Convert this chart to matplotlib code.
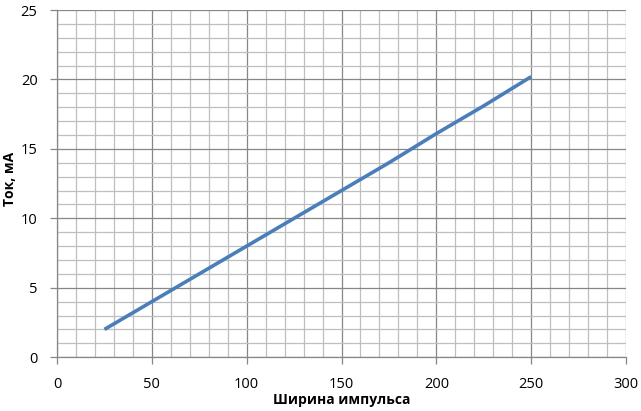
import numpy as np
import matplotlib.pyplot as plt
from matplotlib.ticker import MultipleLocator

# pulse width vs current
width = [25, 50, 75, 100, 125, 150, 175, 200, 225, 250]
current = [2.0, 4.0, 6.0, 8.0, 10.0, 12.0, 14.0, 16.1, 18.1, 20.2]

plt.rcParams['font.family'] = ['Open Sans', 'DejaVu Sans']

fig = plt.figure(figsize=(6.41, 4.11), dpi=100)
ax = fig.add_axes([0.089, 0.131, 0.8876, 0.8446])

ax.plot(width, current, color='#4a7ebb', lw=2.6, solid_capstyle='butt', zorder=3)

ax.set_xlim(0, 300)
ax.set_ylim(0, 25)
ax.xaxis.set_major_locator(MultipleLocator(50))
ax.xaxis.set_minor_locator(MultipleLocator(10))
ax.yaxis.set_major_locator(MultipleLocator(5))
ax.yaxis.set_minor_locator(MultipleLocator(1))

ax.grid(which='major', color='#878787', lw=0.9)
ax.grid(which='minor', color='#bfbfbf', lw=0.9)
ax.set_axisbelow(True)

for s in ['top', 'right']:
    ax.spines[s].set_visible(False)
for s in ['left', 'bottom']:
    ax.spines[s].set_color('#878787')
    ax.spines[s].set_linewidth(0.9)

ax.tick_params(which='major', direction='out', length=5, width=0.9, color='#878787',
               labelsize=10.5, pad=9)
ax.tick_params(which='minor', length=0)

ax.set_xlabel('Ширина импульса', fontsize=10, fontweight='bold', labelpad=1)
ax.set_ylabel('Ток, мА', fontsize=10, fontweight='bold')
ax.yaxis.set_label_coords(-0.07, 0.515)

fig.savefig('out.png', dpi=100)
